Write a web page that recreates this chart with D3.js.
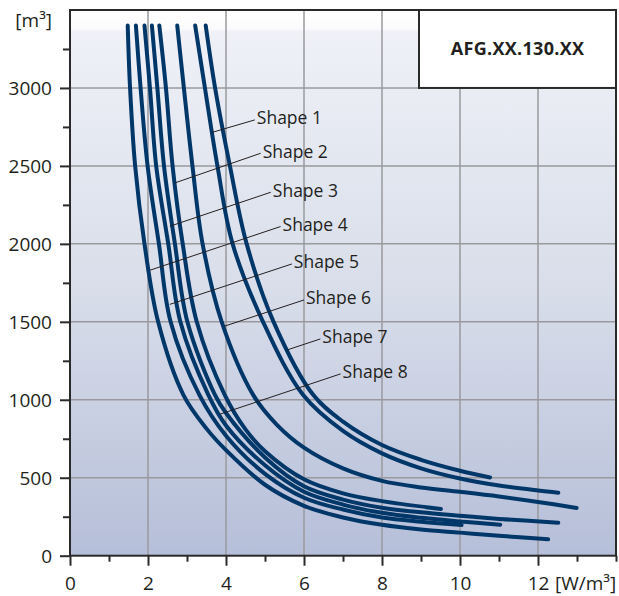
<!DOCTYPE html>
<html>
<head>
<meta charset="utf-8">
<script src="https://cdn.jsdelivr.net/npm/d3@7"></script>
<style>
  html, body { margin: 0; padding: 0; background: #ffffff; }
  svg { display: block; }
  text { font-family: "Open Sans", "Noto Sans", sans-serif; fill: #231f20; }
</style>
</head>
<body>
<svg id="chart" width="619" height="596"></svg>
<script>
// ---------- data ----------
const xTickValues = [0, 2, 4, 6, 8, 10, 12];
const yTickValues = [0, 500, 1000, 1500, 2000, 2500, 3000];
const xUnit = "[W/m³]";
const yUnit = "[m³]";
const title = "AFG.XX.130.XX";

// curves, inner (left) to outer (right): [W/m³, m³]
const curve1 = [[1.48,3400],[1.54,3000],[1.67,2500],[1.91,2000],[2.26,1500],[2.91,1030],[3.5,815],[4,677],[5,455],[6,320],[7,245],[8,198],[9,168],[10,148],[11,128],[12.26,105]];
const curve2 = [[1.69,3400],[1.81,3000],[1.99,2500],[2.28,2000],[2.58,1500],[3.32,1030],[4,770],[5,525],[6,372],[7,296],[8,245],[9,218],[10.04,197]];
const curve3 = [[1.91,3400],[2.05,3000],[2.21,2500],[2.52,2000],[2.83,1500],[3.55,1030],[4,835],[5,580],[6,410],[7,328],[8,275],[9,243],[10,220],[11.03,199]];
const curve4 = [[2.10,3400],[2.24,3000],[2.41,2500],[2.69,2000],[3.01,1500],[3.72,1030],[4,915],[5,630],[6,445],[7,360],[8,308],[9,278],[10,256],[11,236],[12.52,212]];
const curve5 = [[2.29,3400],[2.46,3000],[2.63,2500],[2.89,2000],[3.25,1500],[3.97,1030],[4.5,810],[5,670],[6,490],[7,400],[8,350],[9.51,300]];
const curve6 = [[2.75,3400],[2.92,3000],[3.14,2500],[3.40,2000],[3.89,1500],[4.70,1030],[5.3,841],[6,693],[7,560],[8,480],[9,438],[10,410],[11,380],[12,345],[12.99,306]];
const curve7 = [[3.21,3400],[3.46,3000],[3.78,2500],[4.17,2000],[4.95,1500],[5.98,1030],[7,800],[8,656],[9,560],[10,495],[11,450],[12,418],[12.52,404]];
const curve8 = [[3.48,3400],[3.72,3000],[4.10,2500],[4.53,2000],[5.22,1500],[6.24,1030],[7,860],[8,710],[9,615],[10,545],[10.77,502]];
const curves = [curve1, curve2, curve3, curve4, curve5, curve6, curve7, curve8];

// labels: text position and leader target (data units)
const labelNames = ["Shape 1","Shape 2","Shape 3","Shape 4","Shape 5","Shape 6","Shape 7","Shape 8"];
const labelPos = [[4.79,2808],[4.94,2594],[5.20,2344],[5.45,2124],[5.74,1884],[6.05,1653],[6.47,1403],[6.99,1179]];
const labelTarget = [[3.63,2714],[2.69,2391],[2.56,2113],[2.05,1831],[2.56,1612],[3.96,1472],[5.56,1319],[3.85,908]];

// ---------- layout ----------
const margin = { left: 70, top: 10 };
const x = d3.scaleLinear().domain([0, 14]).range([margin.left, 616]);
const y = d3.scaleLinear().domain([0, 3500]).range([555.7, margin.top]);

const svg = d3.select("#chart");
const defs = svg.append("defs");
const grad = defs.append("linearGradient").attr("id", "bg").attr("x1", 0).attr("y1", 0).attr("x2", 0).attr("y2", 1);
grad.append("stop").attr("offset", "0").attr("stop-color", "#ffffff");
grad.append("stop").attr("offset", "0.035").attr("stop-color", "#fbfbfd");
grad.append("stop").attr("offset", "0.04").attr("stop-color", "#eff1f7");
grad.append("stop").attr("offset", "0.5").attr("stop-color", "#d9deea");
grad.append("stop").attr("offset", "1").attr("stop-color", "#b6bfd9");

svg.append("rect")
  .attr("x", x(0)).attr("y", y(3500))
  .attr("width", x(14) - x(0)).attr("height", y(0) - y(3500))
  .attr("fill", "url(#bg)");

// grid
svg.append("g").selectAll("line").data(xTickValues.filter(d => d > 0)).join("line")
  .attr("x1", d => x(d)).attr("x2", d => x(d))
  .attr("y1", y(0)).attr("y2", y(3500))
  .attr("stroke", "#9a9a9e").attr("stroke-width", 1.5);
svg.append("g").selectAll("line").data(yTickValues.filter(d => d > 0)).join("line")
  .attr("x1", x(0)).attr("x2", x(14))
  .attr("y1", d => y(d)).attr("y2", d => y(d))
  .attr("stroke", "#9a9a9e").attr("stroke-width", 1.5);

// title box
svg.append("rect")
  .attr("x", 419).attr("y", y(3500))
  .attr("width", x(14) - 419).attr("height", y(3000) - y(3500))
  .attr("fill", "#ffffff").attr("stroke", "#2a2a2a").attr("stroke-width", 2);
svg.append("text")
  .attr("x", (419 + x(14)) / 2).attr("y", (y(3500) + y(3000)) / 2)
  .attr("dy", "0.36em").attr("text-anchor", "middle")
  .style("font-weight", "bold").style("font-size", "18px").style("letter-spacing", "0.3px")
  .text(title);

// curves
const line = d3.line().x(d => x(d[0])).y(d => y(d[1])).curve(d3.curveCatmullRom.alpha(0.5));
svg.append("g").selectAll("path").data(curves).join("path")
  .attr("d", line)
  .attr("fill", "none").attr("stroke", "#003769").attr("stroke-width", 4)
  .attr("stroke-linecap", "round").attr("stroke-linejoin", "round");

// labels + leaders
const lg = svg.append("g");
labelNames.forEach((name, i) => {
  const tx = x(labelPos[i][0]), ty = y(labelPos[i][1]);
  lg.append("line")
    .attr("x1", tx - 2).attr("y1", ty + 2)
    .attr("x2", x(labelTarget[i][0])).attr("y2", y(labelTarget[i][1]))
    .attr("stroke", "#231f20").attr("stroke-width", 1);
  lg.append("text")
    .attr("x", tx).attr("y", ty).attr("dy", "0.36em")
    .style("font-size", "17.5px")
    .text(name);
});

// axes
const xAxisG = svg.append("g").attr("transform", `translate(0,${y(0)})`);
xAxisG.call(d3.axisBottom(x).tickValues(d3.range(0, 15, 1)).tickSize(0).tickFormat(""));
xAxisG.select(".domain").remove();
xAxisG.selectAll(".tick line").remove();
xAxisG.selectAll(".tick").append("line")
  .attr("y1", 0).attr("y2", d => xTickValues.includes(d) ? 10 : 6)
  .attr("stroke", "#2a2a2a").attr("stroke-width", 2);
xAxisG.selectAll(".tick").filter(d => xTickValues.includes(d)).append("text")
  .attr("y", 27).attr("dy", "0.36em").attr("text-anchor", "middle")
  .style("font-size", "19px").attr("fill", "#231f20")
  .text(d => d);

const yAxisG = svg.append("g").attr("transform", `translate(${x(0)},0)`);
yAxisG.call(d3.axisLeft(y).tickValues(d3.range(0, 3251, 250)).tickSize(0).tickFormat(""));
yAxisG.select(".domain").remove();
yAxisG.selectAll(".tick line").remove();
yAxisG.selectAll(".tick").append("line")
  .attr("x1", 0).attr("x2", d => yTickValues.includes(d) ? -10 : -7)
  .attr("stroke", "#2a2a2a").attr("stroke-width", 2);
yAxisG.selectAll(".tick").filter(d => yTickValues.includes(d)).append("text")
  .attr("x", -18).attr("dy", "0.36em").attr("text-anchor", "end")
  .style("font-size", "19px").attr("fill", "#231f20")
  .text(d => d);

// frame
svg.append("rect")
  .attr("x", x(0)).attr("y", y(3500))
  .attr("width", x(14) - x(0)).attr("height", y(0) - y(3500))
  .attr("fill", "none").attr("stroke", "#2a2a2a").attr("stroke-width", 2);

// unit labels
svg.append("text").attr("x", x(0) - 18).attr("y", 20).attr("dy", "0.36em")
  .attr("text-anchor", "end").style("font-size", "19px").text(yUnit);
svg.append("text").attr("x", 555).attr("y", y(0) + 27).attr("dy", "0.36em")
  .attr("text-anchor", "start").style("font-size", "19px").text(xUnit);
</script>
</body>
</html>
